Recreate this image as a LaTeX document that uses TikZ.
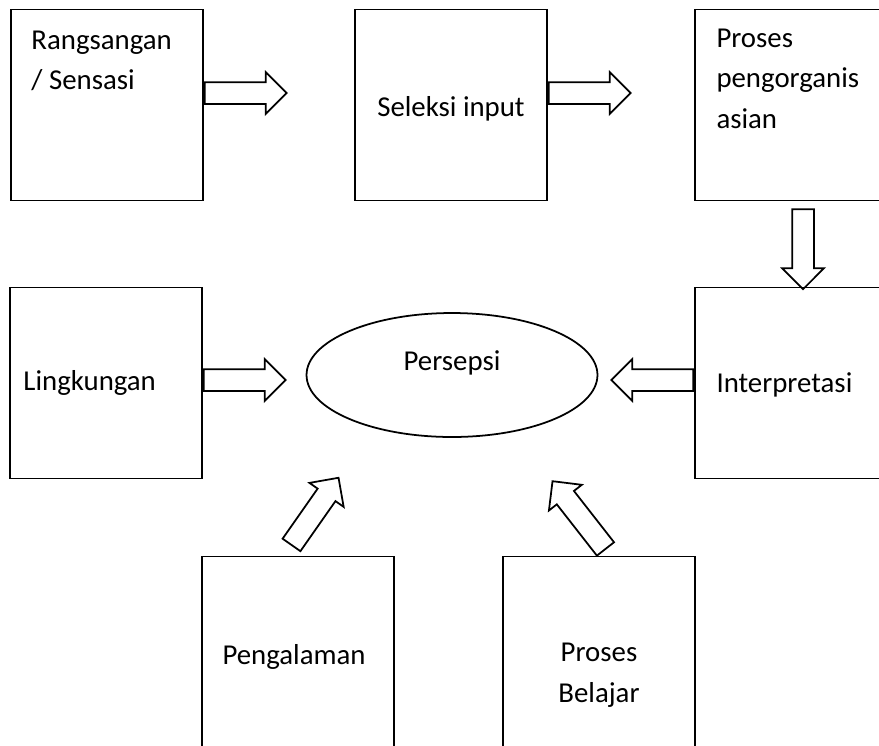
\documentclass[tikz,border=0pt]{standalone}
\usepackage{fontspec}
\setmainfont{Carlito}
\usetikzlibrary{shapes}
\tikzset{
	box/.style  = {draw, line width=1pt, rectangle, minimum width=3.84cm,
		minimum height=3.82cm, inner sep=0pt},
	oval/.style = {draw, line width=1pt, ellipse, minimum width=5.82cm,
		minimum height=2.48cm},
	blk/.style  = {draw, line width=1pt, single arrow, minimum height=1.64cm,
		inner xsep=0pt, inner ysep=0.2cm, single arrow head extend=0.2cm,
		anchor=tail},
	txt/.style  = {inner sep=0pt, font=\fontsize{16.4}{23}\selectfont}
}

\begin{document}
\begin{tikzpicture}[x=0.02cm, y=-0.02cm]
	\useasboundingbox (0,0) rectangle (879,745);
	\clip (0,0) rectangle (879,745);

	\draw
	node at (107,105) [box] (sens) {}
	node at (451,105) [box] (sel) {}
	node at (791,105) [box] (org) {}
	node at (791,383) [box] (intp) {}
	node at (106,383) [box] (ling) {}
	node at (298,652) [box] (peng) {}
	node at (599,652) [box] (bel) {}
	node at (452,375) [oval] (pers) {};

	\node[txt, anchor=north west, align=left] (tsens) at ([shift={(21,22)}]sens.north west) {Rangsangan\\/ Sensasi};
	\node[txt, anchor=base] (tsel) at ([shift={(0,11)}]sel.center) {Seleksi input};
	\node[txt, anchor=north west, align=left] (torg) at ([shift={(22,20)}]org.north west) {Proses\\pengorganis\\asian};
	\node[txt, anchor=base west] (tintp) at ([shift={(22,9)}]intp.west) {Interpretasi};
	\node[txt, anchor=base west] (tling) at ([shift={(14,7)}]ling.west) {Lingkungan};
	\node[txt, anchor=base] (tpers) at ([shift={(0,-5)}]pers.center) {Persepsi};
	\node[txt, anchor=base] (tpeng) at ([shift={(-4,12)}]peng.center) {Pengalaman};
	\node[txt, anchor=north, align=center] (tbel) at ([shift={(0,-9)}]bel.center) {Proses\\Belajar};

	% block arrows
	\node[blk] (a1) at ([shift={(0,-12)}]sens.east) {};
	\node[blk] (a2) at ([shift={(0,-12)}]sel.east) {};
	\node[blk, rotate=-90, minimum height=1.6cm] (a3) at ([shift={(12,7)}]org.south) {};
	\node[blk] (a4) at ([shift={(0,-3)}]ling.east) {};
	\node[blk, rotate=180] (a5) at ([shift={(0,-3)}]intp.west) {};
	\node[blk, rotate=55] (a6) at ([shift={(-7,-10)}]peng.north) {};
	\node[blk, rotate=128, minimum height=1.72cm] (a7) at ([shift={(7,-6)}]bel.north) {};

\end{tikzpicture}
\end{document}
